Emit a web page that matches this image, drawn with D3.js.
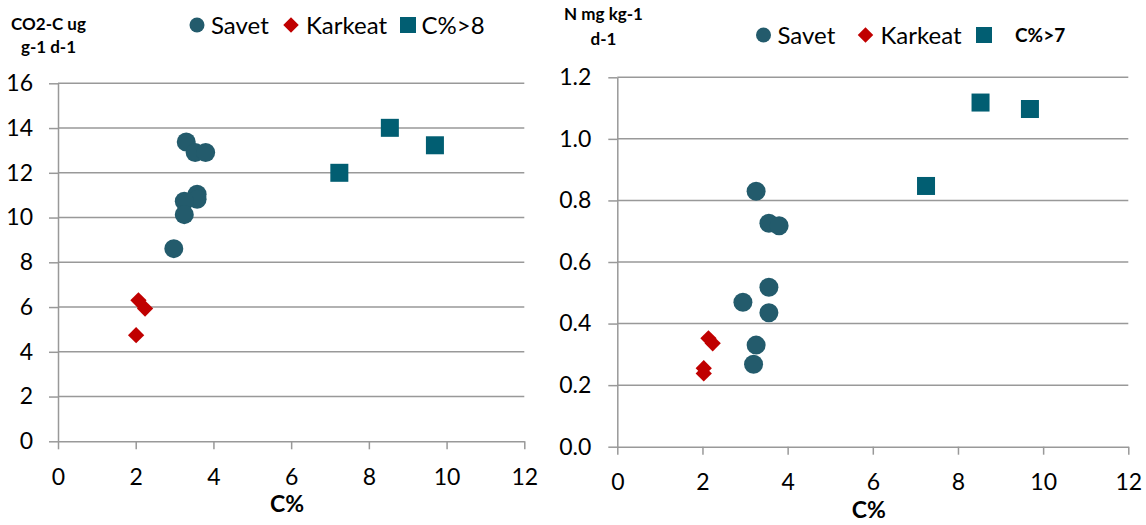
<!DOCTYPE html>
<html>
<head>
<meta charset="utf-8">
<script src="https://cdn.jsdelivr.net/npm/d3@7/dist/d3.min.js"></script>
<style>
  html, body { margin: 0; padding: 0; background: #fff; }
  svg { display: block; }
  text { font-family: Lato, "Open Sans", sans-serif; fill: #000; }
</style>
</head>
<body>
<svg id="chart" width="1146" height="525"></svg>
<script>
// C% ticks shared by both panels
const cTicks = [0, 2, 4, 6, 8, 10, 12];

// Panel 1: CO2-C respiration
const co2Ticks = [0, 2, 4, 6, 8, 10, 12, 14, 16];
const co2SavetC = [3.30, 3.53, 3.80, 3.58, 3.58, 3.25, 3.25, 2.98];
const co2SavetVal = [13.38, 12.91, 12.91, 11.04, 10.82, 10.73, 10.13, 8.61];
const co2KarkeatC = [2.07, 2.24, 2.01];
const co2KarkeatVal = [6.30, 5.93, 4.74];
const co2HighC = [7.24, 8.54, 9.70];
const co2HighVal = [12.00, 14.01, 13.23];

// Panel 2: N mineralisation
const nTicks = [0, 0.2, 0.4, 0.6, 0.8, 1.0, 1.2];
const nSavetC = [3.26, 3.56, 3.80, 3.56, 2.95, 3.56, 3.26, 3.20];
const nSavetVal = [0.830, 0.726, 0.718, 0.518, 0.469, 0.435, 0.330, 0.268];
const nKarkeatC = [2.14, 2.24, 2.03, 2.03];
const nKarkeatVal = [0.352, 0.336, 0.255, 0.238];
const nHighC = [7.25, 8.53, 9.69];
const nHighVal = [0.847, 1.118, 1.097];

const seriesNames = ["Savet", "Karkeat"];

const COL_CIRCLE = "#235b6c";
const COL_DIAMOND = "#c00000";
const COL_SQUARE = "#015e72";
const GRID = "#999999";

const svg = d3.select("#chart");

const zip = (xs, ys) => xs.map((x, i) => ({ x, y: ys[i] }));

function drawPanel(p) {
  const x = d3.scaleLinear().domain([0, 12]).range([p.left, p.right]);
  const y = d3.scaleLinear().domain([0, p.yMax]).range([p.bottom, p.top]);
  const g = svg.append("g");

  // horizontal gridlines
  g.append("g").selectAll("line")
    .data(p.yTicks.slice(1))
    .join("line")
    .attr("x1", p.left).attr("x2", p.right)
    .attr("y1", d => y(d)).attr("y2", d => y(d))
    .attr("stroke", GRID).attr("stroke-width", 1.5);

  // axes
  const xAxis = d3.axisBottom(x).tickValues(cTicks).tickSize(8).tickSizeOuter(0).tickPadding(19)
    .tickFormat(d3.format("d"));
  const yAxis = d3.axisLeft(y).tickValues(p.yTicks).tickSize(9).tickSizeOuter(0).tickPadding(p.yPad)
    .tickFormat(d3.format(p.yFmt));

  [g.append("g").attr("transform", `translate(0,${p.bottom})`).call(xAxis),
   g.append("g").attr("transform", `translate(${p.left},0)`).call(yAxis)]
    .forEach(a => {
      a.select(".domain").attr("stroke", GRID).attr("stroke-width", 1.5);
      a.selectAll(".tick line").attr("stroke", GRID).attr("stroke-width", 1.5);
      a.selectAll(".tick text")
        .attr("font-family", "Lato, 'Open Sans', sans-serif")
        .attr("font-size", 23).attr("fill", "#000");
    });

  // points: Savet (circles), Karkeat (diamonds), high C% (squares)
  g.append("g").selectAll("circle")
    .data(zip(p.savetC, p.savetVal))
    .join("circle")
    .attr("cx", d => x(d.x)).attr("cy", d => y(d.y)).attr("r", 9.5)
    .attr("fill", COL_CIRCLE);

  const diamond = d3.symbol().type(d3.symbolSquare).size(11.5 * 11.5);
  g.append("g").selectAll("path")
    .data(zip(p.karkeatC, p.karkeatVal))
    .join("path")
    .attr("d", diamond)
    .attr("transform", d => `translate(${x(d.x)},${y(d.y)}) rotate(45)`)
    .attr("fill", COL_DIAMOND);

  const sq = 18;
  g.append("g").selectAll("rect")
    .data(zip(p.highC, p.highVal))
    .join("rect")
    .attr("x", d => x(d.x) - sq / 2).attr("y", d => y(d.y) - sq / 2)
    .attr("width", sq).attr("height", sq)
    .attr("fill", COL_SQUARE);

  // y-axis title (two lines, bold)
  const t = g.append("text")
    .attr("text-anchor", "middle")
    .attr("font-weight", "bold").attr("font-size", p.titleSize);
  p.title.forEach((line, i) => {
    t.append("tspan").attr("x", p.titleX).attr("y", p.titleY + i * p.titleGap).text(line);
  });

  // x-axis title
  g.append("text")
    .attr("x", (p.left + p.right) / 2 - 4).attr("y", p.xTitleY)
    .attr("text-anchor", "middle")
    .attr("font-weight", "bold").attr("font-size", 23)
    .text("C%");

  // legend
  const L = p.legend;
  const lg = g.append("g");
  lg.append("circle").attr("cx", L.circleX).attr("cy", L.cy).attr("r", 7.5).attr("fill", COL_CIRCLE);
  lg.append("text").attr("x", L.circleX + 14).attr("y", L.cy + 9)
    .attr("font-size", 24).text(seriesNames[0]);
  lg.append("path").attr("d", d3.symbol().type(d3.symbolSquare).size(11 * 11))
    .attr("transform", `translate(${L.diamondX},${L.cy}) rotate(45)`).attr("fill", COL_DIAMOND);
  lg.append("text").attr("x", L.diamondX + 15).attr("y", L.cy + 9)
    .attr("font-size", 24).text(seriesNames[1]);
  lg.append("rect").attr("x", L.squareX - 8).attr("y", L.cy - 8)
    .attr("width", 16).attr("height", 16).attr("fill", COL_SQUARE);
  lg.append("text").attr("x", L.highX).attr("y", L.cy + L.highDy)
    .attr("font-size", L.highSize).attr("font-weight", L.highWeight)
    .text(L.highLabel);
}

drawPanel({
  left: 58, right: 524.3, top: 83.3, bottom: 441.3, yMax: 16,
  yTicks: co2Ticks, yFmt: "d", yPad: 16,
  savetC: co2SavetC, savetVal: co2SavetVal,
  karkeatC: co2KarkeatC, karkeatVal: co2KarkeatVal,
  highC: co2HighC, highVal: co2HighVal,
  title: ["CO2-C ug", "g-1 d-1"], titleX: 48.5, titleY: 30, titleGap: 23, titleSize: 17,
  xTitleY: 512,
  legend: { cy: 25, circleX: 197, diamondX: 291, squareX: 408,
            highX: 421.5, highDy: 9, highSize: 24, highWeight: "normal", highLabel: "C%>8" }
});

drawPanel({
  left: 617.3, right: 1128.3, top: 77.3, bottom: 446.7, yMax: 1.2,
  yTicks: nTicks, yFmt: ".1f", yPad: 17,
  savetC: nSavetC, savetVal: nSavetVal,
  karkeatC: nKarkeatC, karkeatVal: nKarkeatVal,
  highC: nHighC, highVal: nHighVal,
  title: ["N mg kg-1", "d-1"], titleX: 603.5, titleY: 20, titleGap: 25, titleSize: 17,
  xTitleY: 518,
  legend: { cy: 35, circleX: 763.5, diamondX: 865.5, squareX: 984,
            highX: 1015, highDy: 7, highSize: 19, highWeight: "bold", highLabel: "C%>7" }
});
</script>
</body>
</html>
